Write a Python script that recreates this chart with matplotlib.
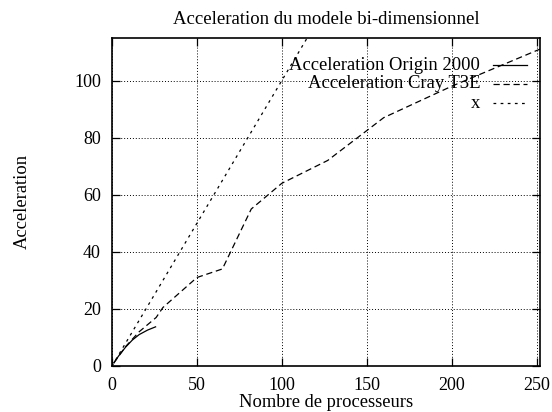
import matplotlib
matplotlib.use("Agg")
import matplotlib.pyplot as plt

title = "Acceleration du modele bi-dimensionnel"
xlabel = "Nombre de processeurs"
ylabel = "Acceleration"

origin_x = [1, 2, 4, 8, 12, 16, 21, 26]
origin_y = [1, 1.9, 3.6, 6.6, 9.1, 11.0, 12.6, 13.8]

cray_x = [1, 8, 16, 26, 30, 50, 65, 82, 100, 127, 160, 200, 256]
cray_y = [1, 6.8, 12, 17, 20.5, 31, 34, 55, 64, 72, 87, 98, 112]

ideal_x = [0, 252]
ideal_y = [0, 252]

labels = ["Acceleration Origin 2000", "Acceleration Cray T3E", "x"]
xticks = [0, 50, 100, 150, 200, 250]
yticks = [0, 20, 40, 60, 80, 100]

plt.rcParams['font.family'] = ['Liberation Serif', 'DejaVu Serif']

fig = plt.figure(figsize=(5.52, 4.12), dpi=100)
ax = fig.add_axes([112/552, 46/412, (540-112)/552, (366-37.7)/412])

l1, = ax.plot(origin_x, origin_y, color='black', lw=0.9, solid_capstyle='butt')
l2, = ax.plot(cray_x, cray_y, color='black', lw=0.9, dashes=(5, 3))
l3, = ax.plot(ideal_x, ideal_y, color='black', lw=0.9, dashes=(2.2, 3.5))

ax.set_xlim(0, 252)
ax.set_ylim(0, 115)
ax.set_xticks(xticks)
ax.set_yticks(yticks)
ax.tick_params(direction='in', length=6, width=0.9, top=True, right=True,
               labelsize=13, pad=8, colors='black')
ax.grid(True, linestyle=(0, (1, 2)), color='black', lw=0.7)
for s in ax.spines.values():
    s.set_linewidth(1.2)

ax.set_title(title, fontsize=13.5, pad=10)
ax.set_xlabel(xlabel, fontsize=13.3, labelpad=0)
ax.set_ylabel(ylabel, fontsize=13.3, labelpad=31)

# gnuplot-style key: right aligned text followed by sample line
key_y = [65, 83.5, 103]
key_dashes = [None, (5, 3), (2.2, 3.5)]
for ky, lab, dsh in zip(key_y, labels, key_dashes):
    yf = 1 - ky / 412
    fig.text(480/552, yf, lab, ha='right', va='center', fontsize=13.4)
    ln = plt.Line2D([493/552, 527/552], [yf, yf], color='black', lw=0.9)
    if dsh is not None:
        ln.set_dashes(dsh)
    fig.add_artist(ln)

fig.savefig("out.png", dpi=100)
